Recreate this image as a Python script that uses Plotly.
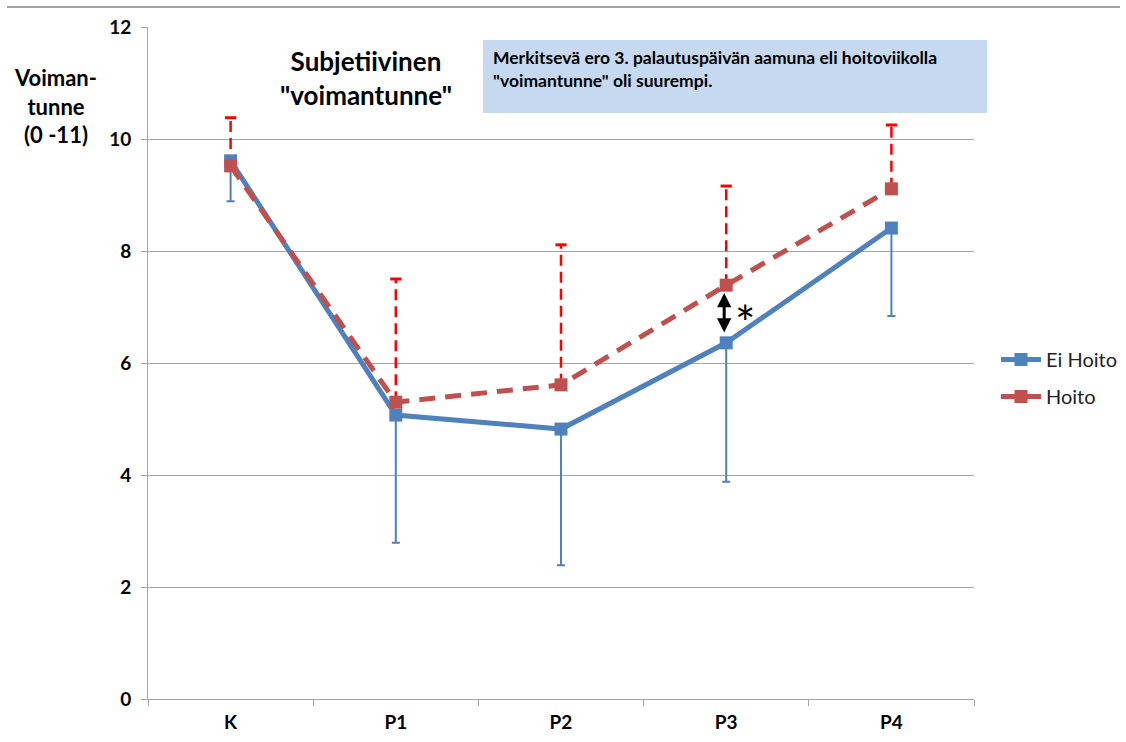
import plotly.graph_objects as go

categories = ["K", "P1", "P2", "P3", "P4"]
ei_hoito = [9.61, 5.07, 4.82, 6.36, 8.41]
ei_hoito_minus = [0.72, 2.28, 2.43, 2.48, 1.57]
hoito = [9.52, 5.30, 5.61, 7.39, 9.11]
hoito_plus = [0.86, 2.20, 2.50, 1.77, 1.14]
y_ticks = [0, 2, 4, 6, 8, 10, 12]

BLUE = "#4F81BD"
RED = "#C0504D"
ERR_RED = "#FF0000"
GRID = "#A6A6A6"
FONT = "Lato"

# plot-area geometry in page pixels
PL, PR, PT, PB = 148, 974, 27, 699
W, H = 1126, 742


def px(x):
    return (x - PL) / (PR - PL)


def py(y):
    return (PB - y) / (PB - PT)


fig = go.Figure()

# Red dashed (upper) error bars built from the data
ex, ey = [], []
for c, v, e in zip(categories, hoito, hoito_plus):
    ex += [c, c, None]
    ey += [v, v + e, None]
fig.add_trace(go.Scatter(x=ex, y=ey, mode="lines", showlegend=False, hoverinfo="skip",
                         line=dict(color=ERR_RED, width=2.5, dash="11px,6px")))
fig.add_trace(go.Scatter(x=categories, y=[v + e for v, e in zip(hoito, hoito_plus)],
                         mode="markers", showlegend=False, hoverinfo="skip",
                         marker=dict(symbol="line-ew", size=8, line=dict(color=ERR_RED, width=3))))

fig.add_trace(go.Scatter(
    x=categories, y=ei_hoito, name="Ei Hoito", mode="lines+markers", legendgroup="a",
    line=dict(color=BLUE, width=5),
    marker=dict(symbol="square", size=13, color=BLUE),
    error_y=dict(type="data", symmetric=False, array=[0] * 5, arrayminus=ei_hoito_minus,
                 color=BLUE, thickness=2, width=4),
))
fig.add_trace(go.Scatter(
    x=categories, y=hoito, name="Hoito", mode="lines+markers", legendgroup="b",
    line=dict(color=RED, width=5, dash="16px,10px"),
    marker=dict(symbol="square", size=13, color=RED),
))

# significance arrow at P3
fig.add_annotation(x="P3", y=hoito[3] - 0.14, ax="P3", ay=ei_hoito[3] + 0.16,
                   xref="x", yref="y", axref="x", ayref="y", text="",
                   showarrow=True, arrowhead=2, arrowside="end+start",
                   arrowsize=0.95, arrowwidth=3, arrowcolor="black", xshift=-2)
fig.add_annotation(x="P3", y=(hoito[3] + ei_hoito[3]) / 2, xref="x", yref="y",
                   text="*", showarrow=False, xshift=19, yshift=-8,
                   xanchor="center", yanchor="middle",
                   font=dict(family=FONT, size=48, color="black"))

# title text
fig.add_annotation(x=px(366), y=py(78), xref="paper", yref="paper",
                   xanchor="center", yanchor="middle",
                   text="<b>Subjetiivinen<br>\"voimantunne\"</b>", showarrow=False,
                   font=dict(family=FONT, size=26, color="black"), align="center")
# y axis title
fig.add_annotation(x=px(55), y=py(106), xref="paper", yref="paper",
                   xanchor="center", yanchor="middle",
                   text="<b>Voiman-<br>tunne<br>(0 -11)</b>", showarrow=False,
                   font=dict(family=FONT, size=22, color="black"), align="center")

# info box
fig.add_shape(type="rect", xref="paper", yref="paper",
              x0=px(483), x1=px(987), y0=py(113), y1=py(40),
              fillcolor="#C6D9F1", line=dict(width=0), layer="above")
fig.add_annotation(x=px(491), y=py(45), xref="paper", yref="paper",
                   xanchor="left", yanchor="top", align="left", showarrow=False,
                   text="<b>Merkitsevä ero 3. palautuspäivän aamuna eli hoitoviikolla<br>\"voimantunne\" oli suurempi.</b>",
                   font=dict(family=FONT, size=17.5, color="black"))

# top separator line
fig.add_shape(type="line", xref="paper", yref="paper",
              x0=px(7), x1=px(1120), y0=py(7), y1=py(7),
              line=dict(color="#A0A0A0", width=2))

fig.update_layout(
    width=W, height=H,
    margin=dict(l=PL, r=W - PR, t=PT, b=H - PB, autoexpand=False),
    plot_bgcolor="white", paper_bgcolor="white",
    font=dict(family=FONT, color="black"),
    legend=dict(x=px(996), y=py(378), xanchor="left", yanchor="middle",
                font=dict(family=FONT, size=20, color="#222"), itemwidth=40,
                tracegroupgap=8),
    xaxis=dict(type="category", categoryorder="array", categoryarray=categories,
               range=[-0.5, 4.5], showline=True, linecolor=GRID, linewidth=1,
               ticks="outside", tickson="boundaries", ticklen=6, tickcolor=GRID,
               showgrid=False, ticklabelstandoff=6,
               tickfont=dict(family=FONT, size=19, color="black", weight="bold")),
    yaxis=dict(range=[0, 12], tickvals=y_ticks, showline=True, linecolor=GRID, linewidth=1,
               ticks="outside", ticklen=6, tickcolor=GRID, showgrid=True,
               gridcolor=GRID, gridwidth=1, zeroline=False, ticklabelstandoff=6,
               tickfont=dict(family=FONT, size=19, color="black", weight="bold")),
)

fig.write_html("out.html", config={"displayModeBar": False},
               post_script="document.body.style.margin='0px';")
